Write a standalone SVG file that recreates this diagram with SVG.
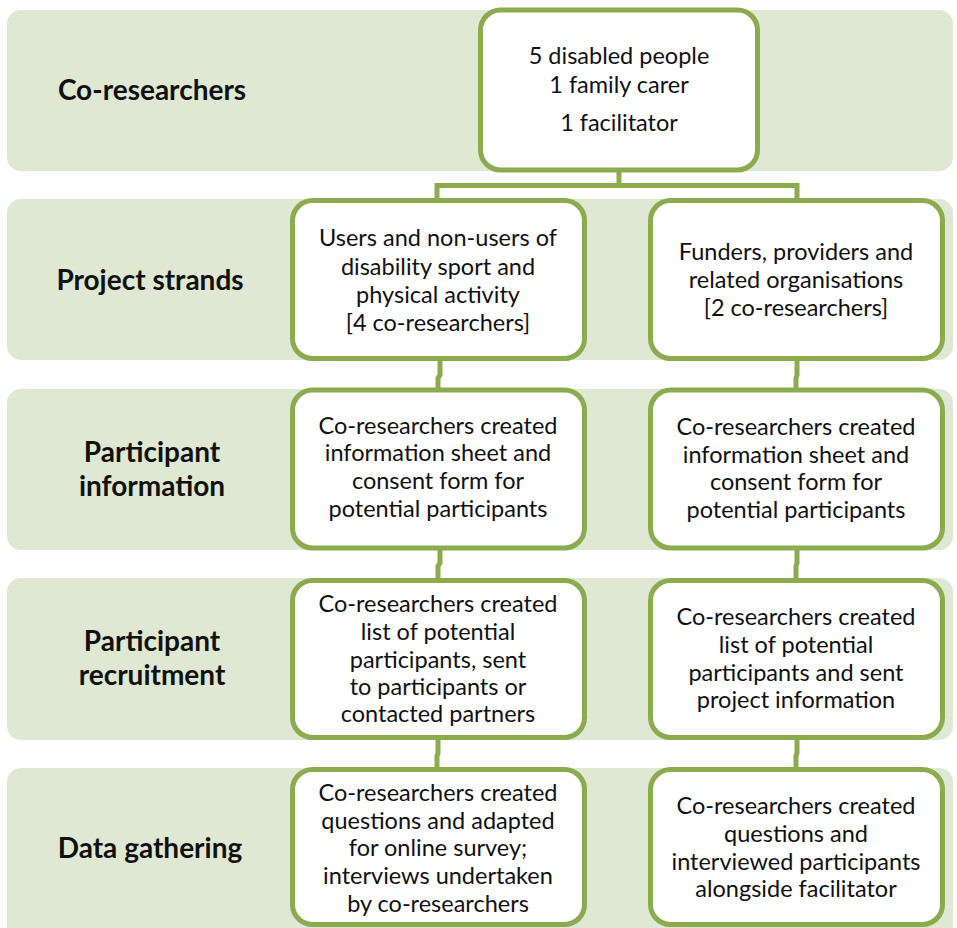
<svg xmlns="http://www.w3.org/2000/svg" width="957" height="928" viewBox="0 0 957 928">
<style>
.band{fill:#dfe8d2;}
.box{fill:#ffffff;stroke:#8aab4e;stroke-width:5;}
.con{fill:none;stroke:#8aab4e;stroke-width:5;}
.lbl{font-family:Lato,"Liberation Sans",Arial,sans-serif;font-weight:bold;font-size:28px;fill:#111;text-anchor:middle;}
.txt{font-family:Lato,"Liberation Sans",Arial,sans-serif;font-size:23.5px;fill:#111;text-anchor:middle;}
</style>
<rect width="957" height="928" fill="#ffffff"/>
<g id="bands">
<rect class="band" x="7" y="10" width="946" height="161" rx="14"/>
<rect class="band" x="7" y="199" width="946" height="161" rx="14"/>
<rect class="band" x="7" y="389" width="946" height="161" rx="14"/>
<rect class="band" x="7" y="578" width="946" height="162" rx="14"/>
<rect class="band" x="7" y="768" width="946" height="175" rx="14"/>
</g>
<g id="band-labels">
<text class="lbl" x="152" y="100">Co-researchers</text>
<text class="lbl" x="150" y="290">Project strands</text>
<text class="lbl" x="152" y="462">Participant</text>
<text class="lbl" x="152" y="496">information</text>
<text class="lbl" x="152" y="651">Participant</text>
<text class="lbl" x="152" y="685">recruitment</text>
<text class="lbl" x="150" y="858">Data gathering</text>
</g>
<g id="connectors">
<path class="con" d="M619 172 V185.5 H437 V198 M619 185.5 H797 V198"/>
<path class="con" d="M440 360 V375 L438 378 V388"/>
<path class="con" d="M797 360 V375 L796 378 V388"/>
<path class="con" d="M440 549 V563 L438 566 V579"/>
<path class="con" d="M797 549 V563 L796 566 V579"/>
<path class="con" d="M438 739 V753 L437 756 V768"/>
<path class="con" d="M797 739 V753 L796 756 V768"/>
</g>
<g id="n-co">
<rect class="box" x="480.5" y="10" width="277" height="160" rx="20"/>
<text class="txt" x="619" y="64">5 disabled people</text>
<text class="txt" x="619" y="93">1 family carer</text>
<text class="txt" x="619" y="131">1 facilitator</text>
</g>
<g id="n-strand-left">
<rect class="box" x="292.5" y="200.5" width="292" height="158" rx="20"/>
<text class="txt" x="438" y="246">Users and non-users of</text>
<text class="txt" x="438" y="275">disability sport and</text>
<text class="txt" x="438" y="303">physical activity</text>
<text class="txt" x="438" y="331">[4 co-researchers]</text>
</g>
<g id="n-strand-right">
<rect class="box" x="650.5" y="200.5" width="292" height="158" rx="20"/>
<text class="txt" x="796" y="260">Funders, providers and</text>
<text class="txt" x="796" y="288">related organisations</text>
<text class="txt" x="796" y="316">[2 co-researchers]</text>
</g>
<g id="n-info-left">
<rect class="box" x="292.5" y="390" width="292" height="158" rx="20"/>
<text class="txt" x="438" y="434">Co-researchers created</text>
<text class="txt" x="438" y="461">information sheet and</text>
<text class="txt" x="438" y="489">consent form for</text>
<text class="txt" x="438" y="517">potential participants</text>
</g>
<g id="n-info-right">
<rect class="box" x="650.5" y="390" width="292" height="158" rx="20"/>
<text class="txt" x="796" y="435">Co-researchers created</text>
<text class="txt" x="796" y="463">information sheet and</text>
<text class="txt" x="796" y="490">consent form for</text>
<text class="txt" x="796" y="518">potential participants</text>
</g>
<g id="n-recruit-left">
<rect class="box" x="292.5" y="580.5" width="292" height="157" rx="20"/>
<text class="txt" x="438" y="612">Co-researchers created</text>
<text class="txt" x="438" y="640">list of potential</text>
<text class="txt" x="438" y="668">participants, sent</text>
<text class="txt" x="438" y="695">to participants or</text>
<text class="txt" x="438" y="722">contacted partners</text>
</g>
<g id="n-recruit-right">
<rect class="box" x="650.5" y="580.5" width="292" height="157" rx="20"/>
<text class="txt" x="796" y="625">Co-researchers created</text>
<text class="txt" x="796" y="653">list of potential</text>
<text class="txt" x="796" y="681">participants and sent</text>
<text class="txt" x="796" y="708">project information</text>
</g>
<g id="n-data-left">
<rect class="box" x="292.5" y="769.5" width="292" height="155" rx="20"/>
<text class="txt" x="438" y="801">Co-researchers created</text>
<text class="txt" x="438" y="829">questions and adapted</text>
<text class="txt" x="438" y="856">for online survey;</text>
<text class="txt" x="438" y="884">interviews undertaken</text>
<text class="txt" x="438" y="912">by co-researchers</text>
</g>
<g id="n-data-right">
<rect class="box" x="650.5" y="769.5" width="292" height="155" rx="20"/>
<text class="txt" x="796" y="814">Co-researchers created</text>
<text class="txt" x="796" y="842">questions and</text>
<text class="txt" x="796" y="870">interviewed participants</text>
<text class="txt" x="796" y="897">alongside facilitator</text>
</g>
</svg>
